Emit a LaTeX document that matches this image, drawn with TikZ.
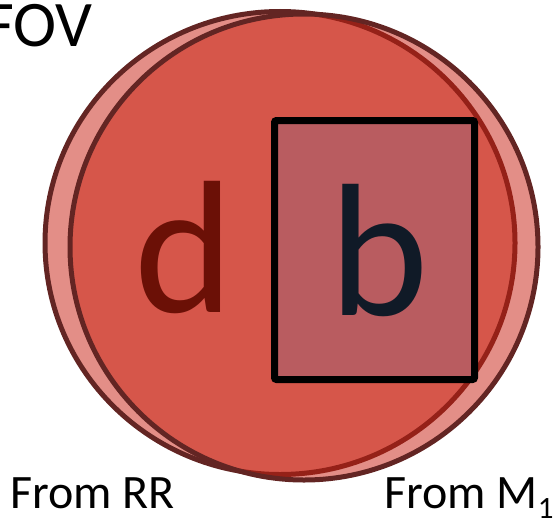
\documentclass[tikz,border=0pt]{standalone}
\usepackage{fontspec}
\setmainfont{Carlito}
\begin{document}
\begin{tikzpicture}[x=1pt,y=-1pt]
  \definecolor{lens}{RGB}{200,30,15}
  \definecolor{rim}{RGB}{99,37,35}
  \definecolor{boxfill}{RGB}{185,92,96}
  \definecolor{dred}{RGB}{107,16,6}
  \definecolor{bnavy}{RGB}{16,26,39}
  \tikzset{
    fovdisc/.style={fill=lens, fill opacity=0.5, draw=rim, line width=5pt},
    bigletter/.style={anchor=base, inner sep=0pt, font=\fontsize{189}{189}\selectfont},
    caption/.style={anchor=base west, inner sep=0pt, font=\fontsize{48}{48}\selectfont},
  }
  \useasboundingbox (0,0) rectangle (556,519);
  % field of view of each source, drawn translucent so the overlap is darker
  \draw[fovdisc] (280,243) ellipse [x radius=235pt, y radius=231.5pt];
  \draw[fovdisc] (304,247) ellipse [x radius=234pt, y radius=233pt];
  % region b
  \node (box) [rectangle, draw=black, line width=7pt, fill=boxfill, rounded corners=2pt,
    minimum width=200pt, minimum height=259pt, inner sep=0pt] at (374.5,250) {};
  \node (d) [bigletter, text=dred] at (184,312) {d};
  \node (b) [bigletter, text=bnavy] at (379,315) {b};
  % labels
  \node (fov) [anchor=base west, inner sep=0pt, font=\fontsize{65}{65}\selectfont] at (-16,46) {FOV};
  \node (rr) [caption] at (10,508) {From RR};
  \node (m1) [caption] at (384,508) {From M\raisebox{-10pt}{\fontsize{31}{31}\selectfont 1}};
\end{tikzpicture}
\end{document}
